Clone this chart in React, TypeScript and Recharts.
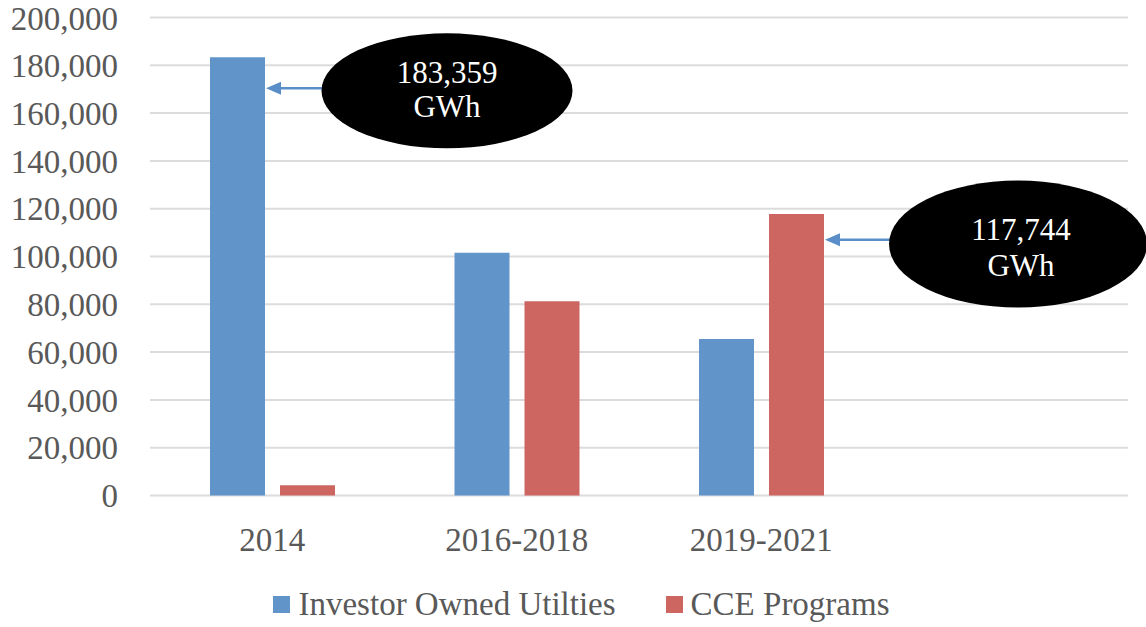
import React from "react";
import { BarChart, Bar, XAxis, YAxis, CartesianGrid, Legend, Rectangle } from "recharts";

const CATEGORIES = ["2014", "2016-2018", "2019-2021", ""];
const IOU_GWH = [183359, 101600, 65500, null];
const CCE_GWH = [4300, 81300, 117744, null];
const Y_TICKS = [0, 20000, 40000, 60000, 80000, 100000, 120000, 140000, 160000, 180000, 200000];
const SERIES_NAMES = ["Investor Owned Utilties", "CCE Programs"];

const CALLOUTS = [
  { series: "iou", category: "2014", lines: ["183,359", "GWh"] },
  { series: "cce", category: "2019-2021", lines: ["117,744", "GWh"] },
];

const BLUE = "#6194C9";
const RED = "#CD6561";
const ARROW = "#5A8EC9";
const TEXT = "#595959";
const FONT = "'Liberation Serif', 'Times New Roman', serif";

// callout geometry, offsets measured from the bar's top-right corner
const CALLOUT_LAYOUT: Record<string, any> = {
  iou: { dx: 182, dy: 33.5, rx: 125.5, ry: 57.5, arrowDy: 31, textDx: 0, baseline: -7.5, lineGap: 34 },
  cce: { dx: 194, dy: 30, rx: 129, ry: 63.5, arrowDy: 25.7, textDx: 3, baseline: -4.5, lineGap: 36 },
};

const data = CATEGORIES.map((name, i) => ({ name, iou: IOU_GWH[i], cce: CCE_GWH[i] }));

const fmt = (v: number) => v.toLocaleString("en-US");

function makeShape(series: string) {
  return (props: any) => {
    const { x, y, width, height, payload, fill } = props;
    const note = CALLOUTS.find((c) => c.series === series && c.category === payload?.name);
    const bar = <Rectangle x={x} y={y} width={width} height={height} fill={fill} />;
    if (!note) return bar;
    const L = CALLOUT_LAYOUT[series];
    const right = x + width;
    const cx = right + L.dx;
    const cy = y + L.dy;
    const ay = y + L.arrowDy;
    const tip = right + 1;
    return (
      <g>
        {bar}
        <line x1={cx - L.rx + 6} y1={ay} x2={tip + 12} y2={ay} stroke={ARROW} strokeWidth={2.5} />
        <polygon points={`${tip},${ay} ${tip + 15},${ay - 6.5} ${tip + 15},${ay + 6.5}`} fill={ARROW} />
        <ellipse cx={cx} cy={cy} rx={L.rx} ry={L.ry} fill="#000" />
        {note.lines.map((t, i) => (
          <text
            key={i}
            x={cx + L.textDx}
            y={cy + L.baseline + i * L.lineGap}
            textAnchor="middle"
            fill="#fff"
            fontSize={31}
            fontFamily={FONT}
          >
            {t}
          </text>
        ))}
      </g>
    );
  };
}

const renderLegend = (props: any) => {
  const items = [...(props.payload || [])].sort(
    (a: any, b: any) => SERIES_NAMES.indexOf(a.value) - SERIES_NAMES.indexOf(b.value)
  );
  return (
    <div
      style={{
        display: "flex",
        justifyContent: "center",
        alignItems: "center",
        height: 60,
        paddingTop: 15,
        paddingLeft: 35,
        boxSizing: "border-box",
        fontFamily: FONT,
        fontSize: 33,
        color: TEXT,
      }}
    >
      {items.map((p: any, i: number) => (
        <div key={p.value} style={{ display: "flex", alignItems: "center", marginLeft: i ? 50 : 0 }}>
          <span style={{ width: 17, height: 17, background: p.color, marginRight: 8, display: "inline-block" }} />
          <span style={{ lineHeight: "33px" }}>{p.value}</span>
        </div>
      ))}
    </div>
  );
};

export default function App() {
  return (
    <div style={{ position: "absolute", left: 0, top: 0, background: "#fff" }}>
      <BarChart
        width={1146}
        height={627}
        data={data}
        margin={{ top: 17.5, right: 18, left: 0, bottom: 0 }}
        barSize={55}
        barGap={15}
      >
        <CartesianGrid vertical={false} stroke="#DCDCDC" strokeWidth={2} />
        <XAxis
          dataKey="name"
          interval={0}
          height={71.5}
          axisLine={false}
          tickLine={false}
          tickSize={0}
          tickMargin={32}
          tick={{ fill: TEXT, fontSize: 33, fontFamily: FONT }}
        />
        <YAxis
          width={150}
          domain={[0, 200000]}
          ticks={Y_TICKS}
          tickFormatter={fmt}
          axisLine={false}
          tickLine={false}
          tickSize={0}
          tickMargin={32}
          tick={{ fill: TEXT, fontSize: 33, fontFamily: FONT }}
        />
        <Legend verticalAlign="bottom" height={60} content={renderLegend} />
        <Bar dataKey="iou" name={SERIES_NAMES[0]} fill={BLUE} isAnimationActive={false} shape={makeShape("iou")} />
        <Bar dataKey="cce" name={SERIES_NAMES[1]} fill={RED} isAnimationActive={false} shape={makeShape("cce")} />
      </BarChart>
    </div>
  );
}
